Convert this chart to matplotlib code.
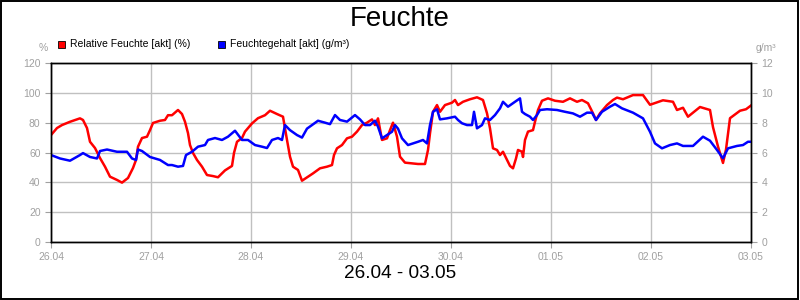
import matplotlib
matplotlib.use("Agg")
import matplotlib.pyplot as plt
from matplotlib.patches import Rectangle

plt.rcParams['font.family'] = ['Liberation Sans', 'DejaVu Sans']

# x axis: days since 26.04 00:00
tage = ['26.04', '27.04', '28.04', '29.04', '30.04', '01.05', '02.05', '03.05']

# Relative Feuchte [akt] (%)
rf_t = [0.00, 0.06, 0.11, 0.19, 0.29, 0.32, 0.36, 0.39, 0.44, 0.49,
        0.54, 0.59, 0.66, 0.71, 0.77, 0.82, 0.85, 0.87, 0.91, 0.96,
        0.99, 1.02, 1.09, 1.14, 1.17, 1.21, 1.27, 1.31, 1.34, 1.37,
        1.39, 1.42, 1.46, 1.51, 1.56, 1.62, 1.67, 1.74, 1.81, 1.83,
        1.86, 1.91, 1.94, 2.01, 2.07, 2.14, 2.19, 2.26, 2.32, 2.36,
        2.39, 2.42, 2.47, 2.51, 2.57, 2.62, 2.69, 2.76, 2.81, 2.83,
        2.86, 2.91, 2.96, 3.01, 3.06, 3.11, 3.16, 3.21, 3.24, 3.27,
        3.31, 3.36, 3.39, 3.42, 3.46, 3.49, 3.54, 3.61, 3.67, 3.74,
        3.77, 3.79, 3.82, 3.86, 3.89, 3.94, 4.01, 4.04, 4.07, 4.12,
        4.19, 4.26, 4.32, 4.36, 4.39, 4.42, 4.46, 4.49, 4.52, 4.56,
        4.59, 4.62, 4.65, 4.67, 4.71, 4.72, 4.74, 4.77, 4.82, 4.84,
        4.87, 4.91, 4.97, 5.04, 5.12, 5.19, 5.26, 5.31, 5.37, 5.42,
        5.45, 5.49, 5.56, 5.62, 5.66, 5.72, 5.82, 5.92, 5.99, 6.12,
        6.22, 6.26, 6.32, 6.37, 6.49, 6.59, 6.62, 6.67, 6.72, 6.75,
        6.79, 6.89, 6.95, 7.00]
rf_v = [71.7, 76.4, 78.4, 80.6, 82.9, 81.8, 76.4, 67.2, 63.0, 56.3,
        50.5, 43.8, 41.6, 39.8, 42.9, 49.6, 55.0, 63.9, 69.7, 70.6,
        75.0, 79.8, 81.3, 81.8, 85.0, 85.0, 88.5, 85.8, 80.6, 73.0,
        65.0, 59.7, 55.0, 50.5, 44.9, 44.2, 43.4, 48.0, 51.0, 59.7,
        67.2, 69.7, 74.0, 79.5, 83.0, 85.0, 88.0, 85.8, 84.0, 68.4,
        57.2, 50.5, 48.3, 41.1, 43.8, 46.0, 49.4, 50.5, 51.6, 58.3,
        62.8, 65.0, 69.5, 70.6, 74.0, 78.4, 80.0, 82.2, 78.4, 82.9,
        68.4, 69.5, 75.0, 80.0, 70.6, 57.2, 53.2, 52.7, 52.3, 52.3,
        61.7, 72.8, 87.3, 91.8, 87.3, 91.8, 93.4, 95.2, 91.8, 94.0,
        95.7, 97.0, 95.2, 86.3, 76.2, 62.8, 61.7, 58.3, 60.5, 55.0,
        51.0, 49.4, 56.0, 61.7, 60.5, 57.0, 68.4, 74.0, 75.0, 80.6,
        88.5, 94.7, 96.3, 94.7, 94.0, 96.3, 94.0, 95.2, 93.0, 86.3,
        81.8, 86.3, 91.8, 95.2, 96.8, 95.7, 98.5, 98.5, 92.0, 95.0,
        94.0, 88.5, 90.0, 84.0, 90.5, 88.5, 77.0, 64.0, 53.0, 62.0,
        83.0, 88.0, 89.0, 91.5]

# Feuchtegehalt [akt] (g/m³)
fg_t = [0.00, 0.09, 0.19, 0.29, 0.32, 0.39, 0.46, 0.49, 0.56, 0.66,
        0.76, 0.81, 0.85, 0.87, 0.91, 0.99, 1.09, 1.17, 1.21, 1.27,
        1.32, 1.35, 1.41, 1.47, 1.54, 1.57, 1.64, 1.71, 1.77, 1.84,
        1.91, 1.97, 2.04, 2.11, 2.16, 2.21, 2.27, 2.31, 2.34, 2.39,
        2.46, 2.51, 2.56, 2.61, 2.67, 2.74, 2.79, 2.84, 2.89, 2.96,
        3.04, 3.09, 3.14, 3.19, 3.24, 3.27, 3.31, 3.36, 3.41, 3.44,
        3.47, 3.51, 3.57, 3.62, 3.67, 3.72, 3.76, 3.79, 3.82, 3.86,
        3.89, 3.96, 4.04, 4.07, 4.11, 4.16, 4.21, 4.23, 4.26, 4.31,
        4.34, 4.39, 4.44, 4.49, 4.52, 4.57, 4.64, 4.69, 4.71, 4.74,
        4.79, 4.82, 4.86, 4.89, 4.96, 5.06, 5.14, 5.22, 5.29, 5.36,
        5.41, 5.45, 5.51, 5.59, 5.64, 5.71, 5.82, 5.92, 5.99, 6.04,
        6.11, 6.19, 6.26, 6.32, 6.42, 6.52, 6.59, 6.66, 6.72, 6.77,
        6.86, 6.92, 6.97, 7.00]
fg_v = [5.83, 5.60, 5.45, 5.83, 5.96, 5.70, 5.60, 6.10, 6.20, 6.05,
        6.05, 5.60, 5.50, 6.20, 6.10, 5.70, 5.50, 5.16, 5.16, 5.05,
        5.10, 5.83, 6.05, 6.39, 6.50, 6.84, 6.97, 6.84, 7.06, 7.46,
        6.84, 6.84, 6.50, 6.39, 6.30, 6.84, 6.97, 6.84, 7.84, 7.50,
        7.17, 7.00, 7.60, 7.84, 8.13, 8.00, 7.90, 8.51, 8.18, 8.07,
        8.51, 8.22, 7.84, 7.84, 8.13, 7.73, 6.95, 7.17, 7.39, 7.84,
        7.60, 6.95, 6.50, 6.61, 6.72, 6.84, 6.61, 7.84, 8.73, 8.90,
        8.22, 8.29, 8.40, 8.18, 7.96, 7.84, 7.84, 8.73, 7.62, 7.84,
        8.29, 8.18, 8.51, 8.96, 9.40, 9.07, 9.40, 9.63, 8.73, 8.58,
        8.40, 8.18, 8.51, 8.85, 8.90, 8.85, 8.73, 8.62, 8.40, 8.67,
        8.67, 8.18, 8.73, 9.07, 9.25, 8.96, 8.67, 8.29, 7.39, 6.61,
        6.28, 6.50, 6.61, 6.44, 6.44, 7.06, 6.79, 6.17, 5.61, 6.28,
        6.44, 6.50, 6.72, 6.72]

grau = '#a0a0a0'

fig = plt.figure(figsize=(8, 3), dpi=100)
fig.patches.append(Rectangle((0.001, 0.002), 0.997, 0.995, transform=fig.transFigure,
                             fill=False, edgecolor='black', linewidth=1.4))

ax = fig.add_axes([0.06375, 0.1933, 0.875, 0.5967])
ax2 = ax.twinx()

ax.plot(rf_t, rf_v, color='#ff0000', linewidth=1.8)
ax2.plot(fg_t, fg_v, color='#0000ff', linewidth=1.8)

ax.set_xlim(0, 7)
ax.set_ylim(0, 120)
ax2.set_ylim(0, 12)
ax.set_xticks(range(len(tage)))
ax.set_xticklabels(tage)
ax.set_yticks(range(0, 121, 20))
ax2.set_yticks(range(0, 13, 2))
ax.grid(True, color='#c0c0c0', linewidth=1.0)
ax.set_axisbelow(True)

for a in (ax, ax2):
    a.tick_params(colors=grau, labelcolor=grau, labelsize=7.5, length=4, width=0.8)
    for s in a.spines.values():
        s.set_color('black')
        s.set_linewidth(1.0)

fig.text(0.5, 0.935, 'Feuchte', ha='center', va='center', fontsize=20)
fig.text(0.5, 0.09, '26.04 - 03.05', ha='center', va='center', fontsize=13.7)
fig.text(0.054, 0.84, '%', ha='center', va='center', fontsize=7.5, color=grau)
fig.text(0.957, 0.84, 'g/m³', ha='center', va='center', fontsize=7.5, color=grau)

# legend
fig.patches.append(Rectangle((0.0725, 0.84), 0.009, 0.024, transform=fig.transFigure,
                             facecolor='#ff0000', edgecolor='black', linewidth=0.6))
fig.text(0.087, 0.852, 'Relative Feuchte [akt] (%)', ha='left', va='center', fontsize=7.5)
fig.patches.append(Rectangle((0.2725, 0.84), 0.009, 0.024, transform=fig.transFigure,
                             facecolor='#0000ff', edgecolor='black', linewidth=0.6))
fig.text(0.287, 0.852, 'Feuchtegehalt [akt] (g/m³)', ha='left', va='center', fontsize=7.5)

fig.savefig('out.png', dpi=100)
